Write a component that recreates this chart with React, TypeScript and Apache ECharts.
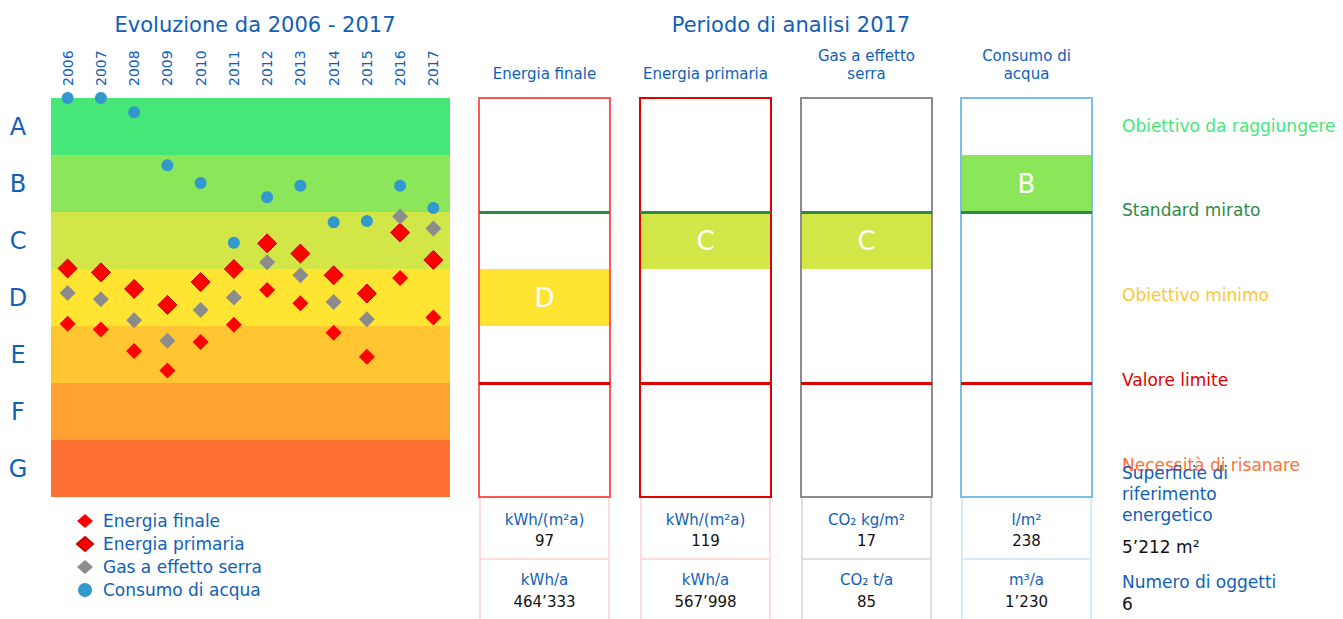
import React, { useEffect, useRef } from "react";
import * as echarts from "echarts";

const years = ["2006", "2007", "2008", "2009", "2010", "2011", "2012", "2013", "2014", "2015", "2016", "2017"];
const classes = ["A", "B", "C", "D", "E", "F", "G"];
const bandColors = ["#46E679", "#8BE65A", "#D3E648", "#FFE432", "#FFC632", "#FFA032", "#FF7032"];

// class position: 0 = top of A, 7 = bottom of G
const energiaFinale = [3.96, 4.06, 4.44, 4.78, 4.28, 3.98, 3.37, 3.6, 4.12, 4.54, 3.16, 3.85];
const energiaPrimaria = [2.99, 3.06, 3.35, 3.63, 3.23, 3.0, 2.55, 2.73, 3.11, 3.43, 2.36, 2.84];
const gasSerra = [3.42, 3.53, 3.9, 4.26, 3.72, 3.5, 2.88, 3.11, 3.58, 3.88, 2.08, 2.29];
const consumoAcqua = [0, 0, 0.25, 1.18, 1.49, 2.54, 1.74, 1.54, 2.18, 2.16, 1.54, 1.93];

const panelTitles = ["Energia finale", "Energia primaria", "Gas a effetto\nserra", "Consumo di\nacqua"];
const panelRatings = ["D", "C", "C", "B"];
const unitsSpecific = ["kWh/(m²a)", "kWh/(m²a)", "CO₂ kg/m²", "l/m²"];
const valuesSpecific = ["97", "119", "17", "238"];
const unitsTotal = ["kWh/a", "kWh/a", "CO₂ t/a", "m³/a"];
const valuesTotal = ["464’333", "567’998", "85", "1’230"];
const targetLevel = 2; // Standard mirato (B/C)
const limitLevel = 5; // Valore limite (E/F)

const levelLabels = ["Obiettivo da raggiungere", "Standard mirato", "Obiettivo minimo", "Valore limite", "Necessità di risanare"];

const BLUE = "#1060B8";
const FONT = "DejaVu Sans";

export default function App() {
  const ref = useRef<HTMLDivElement>(null);
  useEffect(() => {
    if (!ref.current) return;
    const chart = echarts.init(ref.current, undefined, { renderer: "svg" });

    const panelLeft = [479, 640, 801, 961];
    const panelW = 131;
    const gTop = 98;
    const gH = 399;
    const borderColors = ["#FF5555", "#E00000", "#8C8C8C", "#7DBFE0"];
    const cellLineColors = ["#FFD2D2", "#FFD2D2", "#D4D4D4", "#C8E4F2"];
    const levelColors = ["#46E679", "#2E8B45", "#FFC632", "#E00000", "#FF7032"];
    const levelY = [126, 210, 295, 380, 465];

    const grids: any[] = [{ left: 51, top: gTop, width: 399, height: gH }];
    const xAxes: any[] = [
      {
        gridIndex: 0,
        type: "category",
        data: years,
        position: "top",
        axisLine: { show: false },
        axisTick: { show: false },
        splitLine: { show: false },
        axisLabel: { rotate: 90, fontSize: 14, color: BLUE, margin: 12, fontFamily: FONT },
      },
    ];
    const yAxes: any[] = [
      { gridIndex: 0, type: "value", inverse: true, min: 0, max: 7, show: false },
      {
        gridIndex: 0,
        type: "category",
        position: "left",
        data: classes,
        inverse: true,
        axisLine: { show: false },
        axisTick: { show: false },
        splitLine: { show: false },
        axisLabel: { fontSize: 24, color: BLUE, margin: 33, align: "center", fontFamily: FONT },
      },
    ];
    const series: any[] = [
      {
        type: "scatter",
        xAxisIndex: 0,
        yAxisIndex: 0,
        data: [],
        silent: true,
        z: 1,
        markArea: {
          silent: true,
          data: classes.map((c, i) => [
            { yAxis: i, itemStyle: { color: bandColors[i] } },
            { yAxis: i + 1 },
          ]),
        },
      },
      {
        name: "Energia finale",
        type: "scatter",
        xAxisIndex: 0,
        yAxisIndex: 0,
        symbol: "diamond",
        symbolSize: 16,
        clip: false,
        z: 3,
        itemStyle: { color: "#FF0000", opacity: 1 },
        data: energiaFinale,
      },
      {
        name: "Energia primaria",
        type: "scatter",
        xAxisIndex: 0,
        yAxisIndex: 0,
        symbol: "diamond",
        symbolSize: 19,
        clip: false,
        z: 3,
        itemStyle: { color: "#FF0000", borderColor: "#C80000", borderWidth: 1, opacity: 1 },
        data: energiaPrimaria,
      },
      {
        name: "Gas a effetto serra",
        type: "scatter",
        xAxisIndex: 0,
        yAxisIndex: 0,
        symbol: "diamond",
        symbolSize: 16,
        clip: false,
        z: 3,
        itemStyle: { color: "#8C8C8C", opacity: 1 },
        data: gasSerra,
      },
      {
        name: "Consumo di acqua",
        type: "scatter",
        xAxisIndex: 0,
        yAxisIndex: 0,
        symbol: "circle",
        symbolSize: 12,
        clip: false,
        z: 3,
        itemStyle: { color: "#3399CC", opacity: 1 },
        data: consumoAcqua,
      },
    ];

    const graphics: any[] = [];

    panelTitles.forEach((t, i) => {
      const gi = i + 1;
      grids.push({
        left: panelLeft[i],
        top: gTop,
        width: panelW,
        height: gH,
        show: true,
        borderColor: borderColors[i],
        borderWidth: 2,
        backgroundColor: "transparent",
        z: 5,
      });
      xAxes.push({ gridIndex: gi, type: "value", min: 0, max: 1, show: false });
      yAxes.push({ gridIndex: gi, type: "value", inverse: true, min: 0, max: 7, show: false });
      const ri = classes.indexOf(panelRatings[i]);
      series.push({
        type: "scatter",
        xAxisIndex: gi,
        yAxisIndex: 2 + i,
        data: [],
        silent: true,
        markArea: {
          silent: true,
          label: { show: true, position: "inside", color: "#FFFFFF", fontSize: 26, fontFamily: FONT },
          data: [[{ yAxis: ri, name: panelRatings[i], itemStyle: { color: bandColors[ri] } }, { yAxis: ri + 1 }]],
        },
        markLine: {
          silent: true,
          symbol: "none",
          label: { show: false },
          data: [
            { yAxis: targetLevel, lineStyle: { color: "#2E8B45", width: 3, type: "solid" } },
            { yAxis: limitLevel, lineStyle: { color: "#E00000", width: 3, type: "solid" } },
          ],
        },
      });

      const cx = panelLeft[i] + panelW / 2;
      graphics.push({
        type: "text",
        x: cx,
        y: t.includes("\n") ? 65 : 74,
        style: {
          text: t,
          fill: BLUE,
          font: `15px "${FONT}"`,
          align: "center",
          verticalAlign: "middle",
          lineHeight: 18,
        },
      });
      // lower cells
      const lx = panelLeft[i] + 1;
      const rx = panelLeft[i] + panelW - 1;
      const lc = cellLineColors[i];
      graphics.push({ type: "line", shape: { x1: lx, y1: 498, x2: lx, y2: 619 }, style: { stroke: lc, lineWidth: 1.5 } });
      graphics.push({ type: "line", shape: { x1: rx, y1: 498, x2: rx, y2: 619 }, style: { stroke: lc, lineWidth: 1.5 } });
      graphics.push({ type: "line", shape: { x1: lx, y1: 559, x2: rx, y2: 559 }, style: { stroke: lc, lineWidth: 1.5 } });
      const cells = [
        [unitsSpecific[i], 520, BLUE],
        [valuesSpecific[i], 541, "#111111"],
        [unitsTotal[i], 580, BLUE],
        [valuesTotal[i], 602, "#111111"],
      ];
      cells.forEach(([txt, y, col]) => {
        graphics.push({
          type: "text",
          x: cx,
          y: y as number,
          style: { text: txt, fill: col, font: `15px "${FONT}"`, align: "center", verticalAlign: "middle" },
        });
      });
    });

    levelLabels.forEach((l, i) => {
      graphics.push({
        type: "text",
        x: 1122,
        y: levelY[i],
        style: { text: l, fill: levelColors[i], font: `17px "${FONT}"`, align: "left", verticalAlign: "middle" },
      });
    });
    const info: [string, number, string][] = [
      ["Superficie di", 473, BLUE],
      ["riferimento", 494, BLUE],
      ["energetico", 515, BLUE],
      ["5’212 m²", 547, "#111111"],
      ["Numero di oggetti", 582, BLUE],
      ["6", 604, "#111111"],
    ];
    info.forEach(([t, y, c]) => {
      graphics.push({
        type: "text",
        x: 1122,
        y,
        style: { text: t, fill: c, font: `17px "${FONT}"`, align: "left", verticalAlign: "middle" },
      });
    });

    chart.setOption({
      animation: false,
      textStyle: { fontFamily: FONT },
      title: [
        {
          text: "Evoluzione da 2006 - 2017",
          left: 250,
          top: 9,
          textAlign: "center",
          textStyle: { fontSize: 21, fontWeight: "normal", color: BLUE, fontFamily: FONT },
        },
        {
          text: "Periodo di analisi 2017",
          left: 786,
          top: 9,
          textAlign: "center",
          textStyle: { fontSize: 21, fontWeight: "normal", color: BLUE, fontFamily: FONT },
        },
      ],
      legend: {
        orient: "vertical",
        left: 71,
        top: 507,
        itemWidth: 16,
        itemHeight: 14,
        itemGap: 5,
        selectedMode: false,
        textStyle: { fontSize: 17, lineHeight: 18, color: BLUE, fontFamily: FONT, padding: [0, 0, 0, 5] },
        data: ["Energia finale", "Energia primaria", "Gas a effetto serra", "Consumo di acqua"],
      },
      grid: grids,
      xAxis: xAxes,
      yAxis: yAxes,
      series,
      graphic: graphics,
    });
    return () => chart.dispose();
  }, []);
  return (
    <div
      ref={ref}
      style={{ position: "fixed", left: 0, top: 0, width: 1343, height: 619, background: "#FFFFFF" }}
    />
  );
}
